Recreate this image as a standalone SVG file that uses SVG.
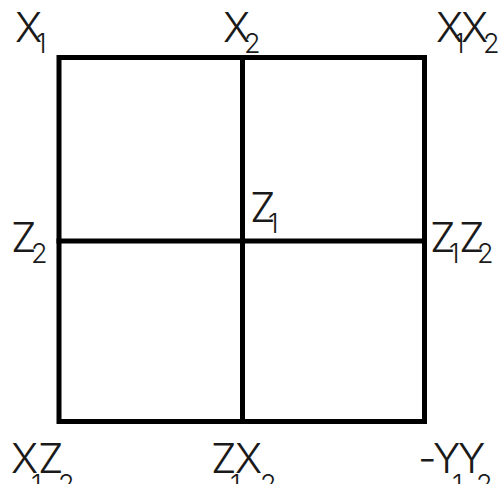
<svg xmlns="http://www.w3.org/2000/svg" width="501" height="484" viewBox="0 0 501 484">
<style>
.g{fill:none;stroke:#000;stroke-width:5;stroke-linecap:square}
.t{font-family:"Inter","DejaVu Sans","Liberation Sans",sans-serif;font-weight:300;font-size:41px;fill:#1a1a1a}
.s{font-size:27px}
</style>
<rect width="501" height="484" fill="#fff"/>
<g id="connectors">
<rect class="g" x="59" y="57.5" width="365.5" height="364"/>
<line class="g" x1="242.5" y1="57.5" x2="242.5" y2="421.5"/>
<line class="g" x1="59" y1="241" x2="424.5" y2="241"/>
</g>
<g id="n-x1"><text class="t"><tspan x="15" y="42">X</tspan><tspan class="s" x="36" y="53">1</tspan></text></g>
<g id="n-x2"><text class="t"><tspan x="223" y="42">X</tspan><tspan class="s" x="244" y="53">2</tspan></text></g>
<g id="n-x1x2"><text class="t"><tspan x="436" y="42">X</tspan><tspan class="s" x="454" y="53">1</tspan><tspan x="461" y="42">X</tspan><tspan class="s" x="483" y="53">2</tspan></text></g>
<g id="n-z2"><text class="t"><tspan x="11" y="252">Z</tspan><tspan class="s" x="31" y="263">2</tspan></text></g>
<g id="n-z1"><text class="t"><tspan x="250" y="222">Z</tspan><tspan class="s" x="268" y="233">1</tspan></text></g>
<g id="n-z1z2"><text class="t"><tspan x="430" y="252">Z</tspan><tspan class="s" x="449" y="263">1</tspan><tspan x="459" y="252">Z</tspan><tspan class="s" x="477" y="263">2</tspan></text></g>
<g id="n-x1z2"><text class="t"><tspan x="11" y="473">X</tspan><tspan class="s" x="31" y="494">1</tspan><tspan x="38" y="473">Z</tspan><tspan class="s" x="58" y="494">2</tspan></text></g>
<g id="n-z1x2"><text class="t"><tspan x="211" y="473">Z</tspan><tspan class="s" x="230" y="494">1</tspan><tspan x="235" y="473">X</tspan><tspan class="s" x="260" y="494">2</tspan></text></g>
<g id="n-y1y2"><text class="t"><tspan x="418" y="473">-</tspan><tspan x="433" y="473">Y</tspan><tspan class="s" x="452" y="494">1</tspan><tspan x="458" y="473">Y</tspan><tspan class="s" x="476" y="494">2</tspan></text></g>
</svg>
